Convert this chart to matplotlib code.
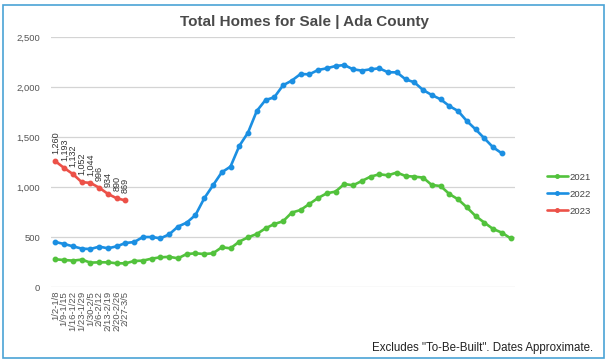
import matplotlib.pyplot as plt
from matplotlib.patches import Rectangle

plt.rcParams['font.family'] = ['Liberation Sans', 'DejaVu Sans']

# week labels (only the 2023 weeks so far are labelled)
weeks = ["1/2-1/8", "1/9-1/15", "1/16-1/22", "1/23-1/29", "1/30-2/5",
         "2/6-2/12", "2/13-2/19", "2/20-2/26", "2/27-3/5"]

homes_2021 = [280, 273, 267, 277, 247, 250, 250, 240, 240, 263, 267, 287, 300,
              305, 290, 333, 340, 333, 340, 400, 390, 457, 500, 533, 590, 633,
              660, 747, 773, 833, 893, 940, 957, 1033, 1020, 1063, 1107, 1130, 1120,
              1148, 1113, 1107, 1097, 1023, 1013, 933, 880, 800, 713, 647, 583, 547, 490]
homes_2022 = [453, 433, 410, 387, 383, 407, 390, 410, 443, 453, 503, 503, 490,
              530, 607, 647, 723, 890, 1020, 1150, 1207, 1413, 1547, 1763, 1873, 1900,
              2020, 2067, 2133, 2130, 2173, 2190, 2213, 2223, 2180, 2167, 2180, 2190, 2150,
              2150, 2080, 2050, 1973, 1923, 1880, 1813, 1763, 1663, 1580, 1490, 1400, 1340]
homes_2023 = [1260, 1193, 1132, 1052, 1044, 996, 934, 890, 869]

colors = {"2021": "#52c23c", "2022": "#1b8fe2", "2023": "#ec5148"}

fig = plt.figure(figsize=(6.08, 3.63), dpi=100)
ax = fig.add_axes([0.084, 0.2085, 0.763, 0.6887])

n = len(homes_2021)
for name, vals in [("2021", homes_2021), ("2022", homes_2022), ("2023", homes_2023)]:
    ax.plot(range(len(vals)), vals, color=colors[name], lw=1.9, marker='o',
            markersize=3.2, label=name, solid_capstyle='round')

for i, v in enumerate(homes_2023):
    ax.annotate(f"{v:,}", (i, v), xytext=(0, 5), textcoords='offset points',
                rotation=90, ha='center', va='bottom', fontsize=6.5, color='#333333')

ax.set_xlim(-0.5, n - 0.5)
ax.set_ylim(0, 2500)
ax.set_yticks(range(0, 2501, 500))
ax.set_yticklabels([f"{t:,}" for t in range(0, 2501, 500)])
ax.set_xticks(range(n))
ax.set_xticklabels(weeks + [""] * (n - len(weeks)), rotation=90)
ax.tick_params(axis='both', length=0, labelsize=6.8, labelcolor='#555555')
ax.tick_params(axis='y', pad=8)
ax.tick_params(axis='x', pad=2.5, labelsize=6.8)
ax.grid(axis='y', color='#d4d4d4', lw=0.9)
ax.set_axisbelow(True)
for s in ax.spines.values():
    s.set_visible(False)

fig.text(0.5, 0.94, "Total Homes for Sale | Ada County", ha='center', va='center',
         fontsize=11, fontweight='bold', color='#4a4a4a')

leg = ax.legend(loc='center left', bbox_to_anchor=(1.06, 0.373), frameon=False,
                borderaxespad=0, fontsize=6.8, handlelength=2.3, handletextpad=0.1,
                labelspacing=0.85, markerscale=0.8)
for t in leg.get_texts():
    t.set_color('#444444')

fig.text(0.975, 0.04, 'Excludes "To-Be-Built". Dates Approximate.', ha='right',
         va='center', fontsize=8.3, color='#222222')

fig.patches.append(Rectangle((0.005, 0.014), 0.989, 0.972, transform=fig.transFigure,
                             fill=False, edgecolor='#4aa3d6', lw=1.2))

fig.savefig("out.png", dpi=100)
